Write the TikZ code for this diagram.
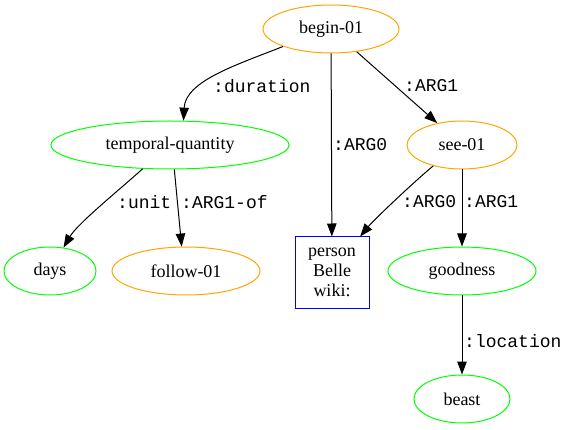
\documentclass[tikz,border=0pt]{standalone}
\usepackage{fontspec}
\setmainfont{Liberation Serif}
\setmonofont{Liberation Mono}
\usetikzlibrary{shapes.geometric,arrows.meta}
\definecolor{gvorange}{RGB}{255,165,0}
\definecolor{gvgreen}{RGB}{0,255,0}
\definecolor{gvblue}{RGB}{0,0,255}
\begin{document}
\begin{tikzpicture}[x=1pt,y=1pt,
  concept/.style={ellipse,draw,line width=1pt,inner sep=0pt,minimum height=48pt,font=\fontsize{18}{21}\selectfont},
  pred/.style={concept,draw=gvorange},
  ent/.style={concept,draw=gvgreen},
  namebox/.style={rectangle,draw=gvblue,line width=1pt,inner sep=0pt,minimum width=74pt,minimum height=71pt,align=center,font=\fontsize{18}{21}\selectfont},
  rel/.style={font=\ttfamily\fontsize{18}{21}\selectfont,anchor=west,inner sep=0pt},
  arr/.style={line width=1pt,-{Triangle[length=13pt,width=9.5pt]}}]
\useasboundingbox (0,0) rectangle (568,429);
\node[pred,minimum width=136pt] (begin) at (331,400) {begin-01};
\node[ent,minimum width=238pt] (tq) at (170,284) {temporal-quantity};
\node[pred,minimum width=110pt] (see) at (462,284) {see-01};
\node[ent,minimum width=92pt] (days) at (50,158) {days};
\node[pred,minimum width=148pt] (follow) at (186,158) {follow-01};
\node[namebox] (person) at (332,156.5) {person\\[-1pt]Belle\\[-1pt]wiki:};
\node[ent,minimum width=148pt] (good) at (462,158) {goodness};
\node[ent,minimum width=96pt] (beast) at (462,30) {beast};

\draw[arr] (begin.200) .. controls +(-45,-18) and +(2,40) .. (tq.61);
\draw[arr] (begin) -- (person);
\draw[arr] (begin) -- (see);
\draw[arr] (tq.221) .. controls +(-22,-20) and +(14,24) .. (days.60);
\draw[arr] (tq.280) -- (follow.100);
\draw[arr] (see.216) .. controls +(-16,-13) and +(14,17) .. (person.52);
\draw[arr] (see) -- (good);
\draw[arr] (good) -- (beast);

\node[rel] (l1) at (213,343) {:duration};
\node[rel] (l2) at (333,284) {:ARG0};
\node[rel] (l3) at (404,343) {:ARG1};
\node[rel] (l4) at (117,227) {:unit};
\node[rel] (l5) at (181,227) {:ARG1-of};
\node[rel] (l6) at (402,227) {:ARG0};
\node[rel] (l7) at (464,227) {:ARG1};
\node[rel] (l8) at (464,88) {:location};
\end{tikzpicture}
\end{document}
